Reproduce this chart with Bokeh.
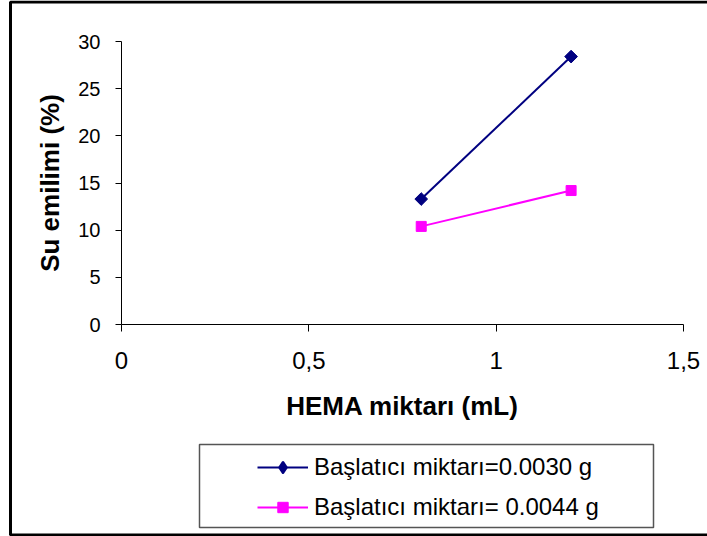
import math
from bokeh.plotting import figure
from bokeh.models import Range1d, FixedTicker, Legend, LegendItem, BoxAnnotation
from bokeh.embed import file_html
from bokeh.resources import INLINE

# ---- data ----
hema = [0.8, 1.2]
su_0030 = [13.3, 28.4]
su_0044 = [10.4, 14.2]
series_labels = ["Başlatıcı miktarı=0.0030 g", "Başlatıcı miktarı= 0.0044 g"]
x_ticks = [0, 0.5, 1, 1.5]
x_tick_labels = ["0", "0,5", "1", "1,5"]
y_ticks = [0, 5, 10, 15, 20, 25, 30]
x_title = "HEMA miktarı (mL)"
y_title = "Su emilimi (%)"

FONT = "Liberation Sans"
W, H = 707, 536
# pixel layout of the plotting area inside the chart
PX_LEFT, PX_RIGHT, PX_TOP, PX_BOTTOM = 121, 683, 41, 324
X_MIN, X_MAX, Y_MIN, Y_MAX = 0.0, 1.5, 0.0, 30.0
sx = (PX_RIGHT - PX_LEFT) / (X_MAX - X_MIN)
sy = (PX_BOTTOM - PX_TOP) / (Y_MAX - Y_MIN)
x_range = Range1d(X_MIN - PX_LEFT / sx, X_MAX + (W - PX_RIGHT) / sx)
y_range = Range1d(Y_MIN - (H - PX_BOTTOM) / sy, Y_MAX + PX_TOP / sy)

p = figure(width=W, height=H, output_backend="svg", toolbar_location=None,
           x_range=x_range, y_range=y_range,
           min_border=0, min_border_left=0, min_border_right=0,
           min_border_top=0, min_border_bottom=0)
p.outline_line_color = None
p.grid.visible = False
p.background_fill_color = "white"
p.border_fill_color = "white"

# axes
xa = p.xaxis[0]
xa.fixed_location = 0
xa.bounds = (X_MIN, X_MAX)
xa.ticker = FixedTicker(ticks=x_ticks)
xa.major_label_overrides = {t: l for t, l in zip(x_ticks, x_tick_labels)}
xa.major_tick_out = 7
xa.major_tick_in = 0
xa.minor_tick_out = 0
xa.minor_tick_in = 0
xa.major_label_standoff = 20
xa.major_label_text_font = FONT
xa.major_label_text_font_size = "24px"
xa.major_label_text_color = "black"
xa.axis_label = x_title
xa.axis_label_text_font = FONT
xa.axis_label_text_font_style = "bold"
xa.axis_label_text_font_size = "26px"
xa.axis_label_text_color = "black"
xa.axis_label_standoff = 19
xa.axis_line_color = "black"
xa.major_tick_line_color = "black"

ya = p.yaxis[0]
ya.fixed_location = 0
ya.bounds = (Y_MIN, Y_MAX)
ya.ticker = FixedTicker(ticks=y_ticks)
ya.major_tick_out = 6
ya.major_tick_in = 0
ya.minor_tick_out = 0
ya.minor_tick_in = 0
ya.major_label_standoff = 15
ya.major_label_text_font = FONT
ya.major_label_text_font_size = "20px"
ya.major_label_text_color = "black"
ya.axis_label = y_title
ya.axis_label_text_font = FONT
ya.axis_label_text_font_style = "bold"
ya.axis_label_text_font_size = "26px"
ya.axis_label_text_color = "black"
ya.axis_label_standoff = 10
ya.axis_line_color = "black"
ya.major_tick_line_color = "black"

# series
NAVY, MAGENTA = "#000080", "#FF00FF"
l1 = p.line(hema, su_0030, line_color=NAVY, line_width=2)
# diamond used for the legend symbol (hidden under the rotated squares in the plot)
k1 = p.scatter(hema, su_0030, marker="diamond", size=8, fill_color=NAVY,
               line_color=NAVY, line_width=2.5, line_join="round")
m1 = p.scatter(hema, su_0030, marker="square", angle=math.pi / 4, size=9,
               fill_color=NAVY, line_color=NAVY)
l2 = p.line(hema, su_0044, line_color=MAGENTA, line_width=2)
m2 = p.scatter(hema, su_0044, marker="square", size=10,
               fill_color=MAGENTA, line_color=MAGENTA)

legend = Legend(items=[LegendItem(label=series_labels[0], renderers=[l1, k1]),
                       LegendItem(label=series_labels[1], renderers=[l2, m2])],
                location=(257, H - 522), margin=0, padding=0, spacing=10,
                glyph_width=51, glyph_height=26, label_height=30,
                label_standoff=6, label_text_font=FONT,
                label_text_font_size="24px", label_text_color="black",
                border_line_color=None, background_fill_alpha=0)
p.add_layout(legend)

# legend frame and outer chart border
p.add_layout(BoxAnnotation(left=199, right=653, top=444, bottom=527,
                           left_units="canvas", right_units="canvas",
                           top_units="canvas", bottom_units="canvas",
                           fill_alpha=0, line_color="#555555", line_alpha=1,
                           line_width=1.5))
p.add_layout(BoxAnnotation(left=10, right=720, top=1.5, bottom=534.5,
                           left_units="canvas", right_units="canvas",
                           top_units="canvas", bottom_units="canvas",
                           fill_alpha=0, line_color="black", line_alpha=1,
                           line_width=3))

open("out.html", "w").write(file_html(p, INLINE))
